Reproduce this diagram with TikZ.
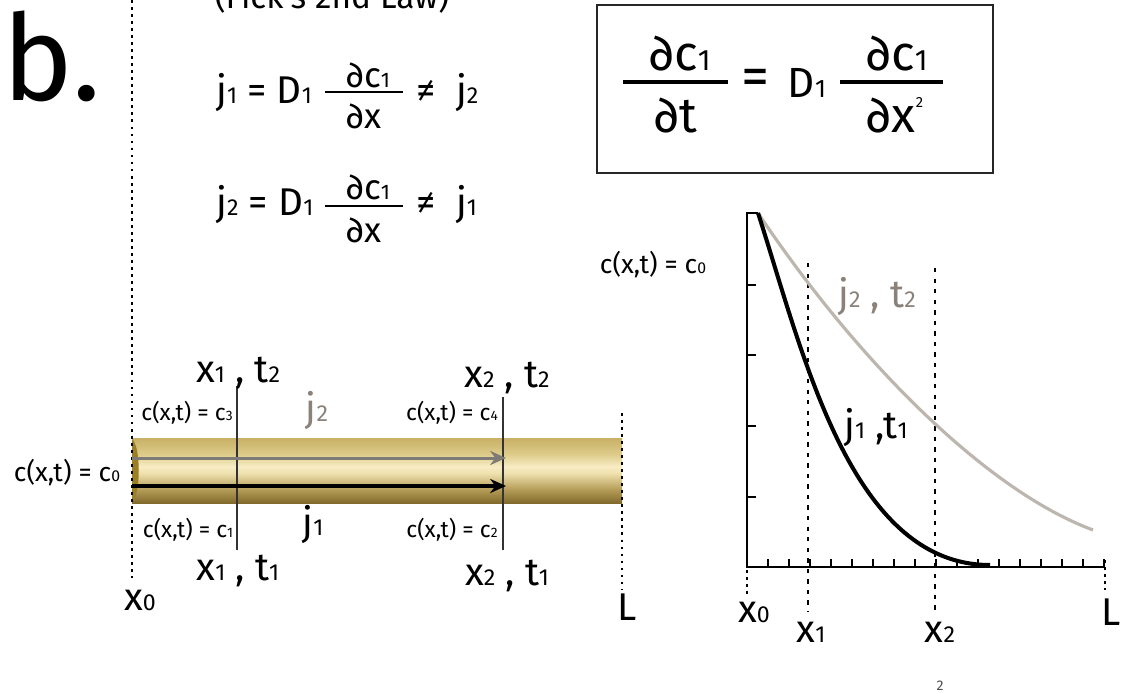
\documentclass[tikz,border=0pt]{standalone}
\usepackage{fontspec}
\setmainfont{Fira Sans}
\newfontfamily\symfont{Fira Sans}
\usetikzlibrary{arrows.meta}

\definecolor{tubetop}{HTML}{C8B066}
\definecolor{tubeupper}{HTML}{DECD8C}
\definecolor{tubehi}{HTML}{F8EDC4}
\definecolor{tubemid}{HTML}{EFE1AE}
\definecolor{tubelow}{HTML}{B39A55}
\definecolor{tubebot}{HTML}{806A2C}
\definecolor{tubecap}{HTML}{9A7F24}
\definecolor{fluxgray}{HTML}{7E7A75}
\definecolor{labelgray}{HTML}{8A827A}
\definecolor{curvegray}{HTML}{BDB6AF}

\pgfdeclareverticalshading{tube}{100bp}{color(0bp)=(tubebot); color(25bp)=(tubebot);
  color(35bp)=(tubelow); color(48bp)=(tubemid); color(53bp)=(tubehi);
  color(62bp)=(tubeupper); color(75bp)=(tubetop); color(100bp)=(tubetop)}

\newcommand\low[1]{\scalebox{0.6}{#1}}
\newcommand\pdiff{{\symfont ∂}}

\begin{document}
\begin{tikzpicture}[
    x=0.02cm, y=-0.02cm,
    every node/.style={inner sep=0pt},
    eqn/.style={font=\fontsize{22}{24}\selectfont},
    fraceqn/.style={font=\fontsize{20}{22}\selectfont},
    boxeqn/.style={font=\fontsize{28}{30}\selectfont},
    big/.style={font=\fontsize{22}{24}\selectfont},
    mid/.style={font=\fontsize{15}{17}\selectfont},
    small/.style={font=\fontsize{13}{15}\selectfont},
    guide/.style={line width=1.2pt, dash pattern=on 1.6pt off 2.4pt},
    graphguide/.style={line width=0.8pt, dash pattern=on 2.5pt off 3.5pt},
    marker/.style={line width=0.6pt, black!80},
    flux/.style={-{Stealth[length=9pt, width=8pt]}},
    axis/.style={line width=1.5pt},
    fracbar/.style={line width=1.7pt}
  ]
  \useasboundingbox (0,0) rectangle (1124,693);
  \clip (0,0) rectangle (1124,693);

  % Panel letter and the (cut off) title
  \node[font=\fontsize{68}{70}\selectfont, anchor=base west] (panel) at (2,100) {b.};
  \node[font=\fontsize{19}{21}\selectfont, anchor=base] (title) at (332,9) {(Fick's 2nd Law)};

  % Flux at the two times
  \node[eqn, anchor=base west] (jone) at (216,103) {j\low1 = D\low1};
  \node[fraceqn, anchor=base] (jonenum) at (368,87) {\pdiff c\low1};
  \node[fraceqn, anchor=base] (joneden) at (364,128) {\pdiff x};
  \node[eqn, anchor=base west] (joneneq) at (416,103) {{\symfont ≠}\ \ j\low2};
  \draw[fracbar] (325,92) -- (403,92);

  \node[eqn, anchor=base west] (jtwo) at (216,215) {j\low2 = D\low1};
  \node[fraceqn, anchor=base] (jtwonum) at (368,199) {\pdiff c\low1};
  \node[fraceqn, anchor=base] (jtwoden) at (364,242) {\pdiff x};
  \node[eqn, anchor=base west] (jtwoneq) at (416,215) {{\symfont ≠}\ \ j\low1};
  \draw[fracbar] (325,206) -- (403,206);

  % Boxed diffusion equation
  \node[draw=black!85, line width=1.2pt, minimum width=7.92cm, minimum height=3.36cm] (lawbox) at (795,89) {};
  \node[boxeqn, anchor=base] (lhsnum) at (680,70) {\pdiff c\low1};
  \node[boxeqn, anchor=base] (lhsden) at (676,132) {\pdiff t};
  \node[font=\fontsize{32}{34}\selectfont] (lawequal) at (756,82) {=};
  \node[font=\fontsize{24}{26}\selectfont, anchor=base] (lawD) at (807,97) {D\low1};
  \node[boxeqn, anchor=base] (rhsnum) at (897,70) {\pdiff c\low1};
  \node[boxeqn, anchor=base] (rhsden) at (895,132) {\pdiff x\raisebox{0.5em}{\scalebox{0.3}{2}}};
  \draw[line width=2.3pt] (623,82) -- (728,82);
  \draw[line width=2.3pt] (840,82) -- (943,82);

  % Tube
  \shade[shading=tube] (132,438) rectangle (622,503);
  \fill[tubecap] (132,439) .. controls (141,446) and (141,495) .. (132,502) -- cycle;
  \draw[guide] (132,0) -- (132,578);
  \draw[guide] (622,413) -- (622,590);

  \coordinate (xonetop) at (237,386);
  \coordinate (xonebot) at (237,550);
  \coordinate (xtwotop) at (503,397);
  \coordinate (xtwobot) at (503,550);
  \draw[marker] (xonetop) -- (xonebot);
  \draw[marker] (xtwotop) -- (xtwobot);

  \coordinate (jtwostart) at (132,458);
  \coordinate (jtwoend) at (506,458);
  \coordinate (jonestart) at (132,486);
  \coordinate (joneend) at (506,486);
  \draw[flux, fluxgray, line width=1.7pt] (jtwostart) -- (jtwoend);
  \draw[flux, line width=2.4pt] (jonestart) -- (joneend);

  \node[big, anchor=base] (xonettwo) at (238,382) {x\low1 , t\low2};
  \node[big, anchor=base] (xtwottwo) at (507,387) {x\low2 , t\low2};
  \node[small, anchor=base] (cthree) at (187,420) {c(x,t) = c\low3};
  \node[big, labelgray, anchor=base] (jtwotube) at (317,421) {j\low2};
  \node[small, anchor=base] (cfour) at (452,420) {c(x,t) = c\low4};
  \node[mid, anchor=base] (czero) at (67,481) {c(x,t) = c\low0};
  \node[small, anchor=base] (cone) at (188,537) {c(x,t) = c\low1};
  \node[big, anchor=base] (jonetube) at (313,535) {j\low1};
  \node[small, anchor=base] (ctwo) at (452,537) {c(x,t) = c\low2};
  \node[big, anchor=base] (xonetone) at (238,580) {x\low1 , t\low1};
  \node[big, anchor=base] (xtwotone) at (507,585) {x\low2 , t\low1};
  \node[big, anchor=base] (xzero) at (140,610) {x\low0};
  \node[big, anchor=base west] (tubeL) at (617,620) {L};

  % Concentration profiles
  \draw[graphguide] (808,263) -- (808,612);
  \draw[graphguide] (935,268) -- (935,615);
  \draw[guide] (747,570) -- (747,596);
  \draw[guide] (1105,560) -- (1105,590);

  \draw[axis] (758,213) -- (747,213) -- (747,567) -- (1105,567);
  \foreach \y in {285,355,426,497}
    \draw[axis] (747,\y) -- (756,\y);
  \foreach \k in {1,...,17}
    \draw[line width=1.3pt] (747+21*\k,567) -- (747+21*\k,559);

  \coordinate (peak) at (758,213);
  \coordinate (grayend) at (1093,530);
  \coordinate (blackend) at (990,565);
  \draw[curvegray, line width=1.8pt] (peak) .. controls (855,358) and (985,490) .. (grayend);
  \draw[line width=2.3pt] (peak) .. controls (803,352) and (850,565) .. (blackend);

  \node[mid, anchor=base] (czerograph) at (653,273) {c(x,t) = c\low0};
  \node[big, labelgray, anchor=base] (jtwottwo) at (877,307) {j\low2 , t\low2};
  \node[big, anchor=base] (jonetone) at (876,438) {j\low1 ,t\low1};
  \node[big, anchor=base] (gxzero) at (754,622) {x\low0};
  \node[big, anchor=base] (gxone) at (811,642) {x\low1};
  \node[big, anchor=base] (gxtwo) at (940,642) {x\low2};
  \node[big, anchor=base west] (graphL) at (1101,625) {L};
  \node[font=\fontsize{8}{9}\selectfont, black!70, anchor=base] (stray) at (940,690) {2};
\end{tikzpicture}
\end{document}
